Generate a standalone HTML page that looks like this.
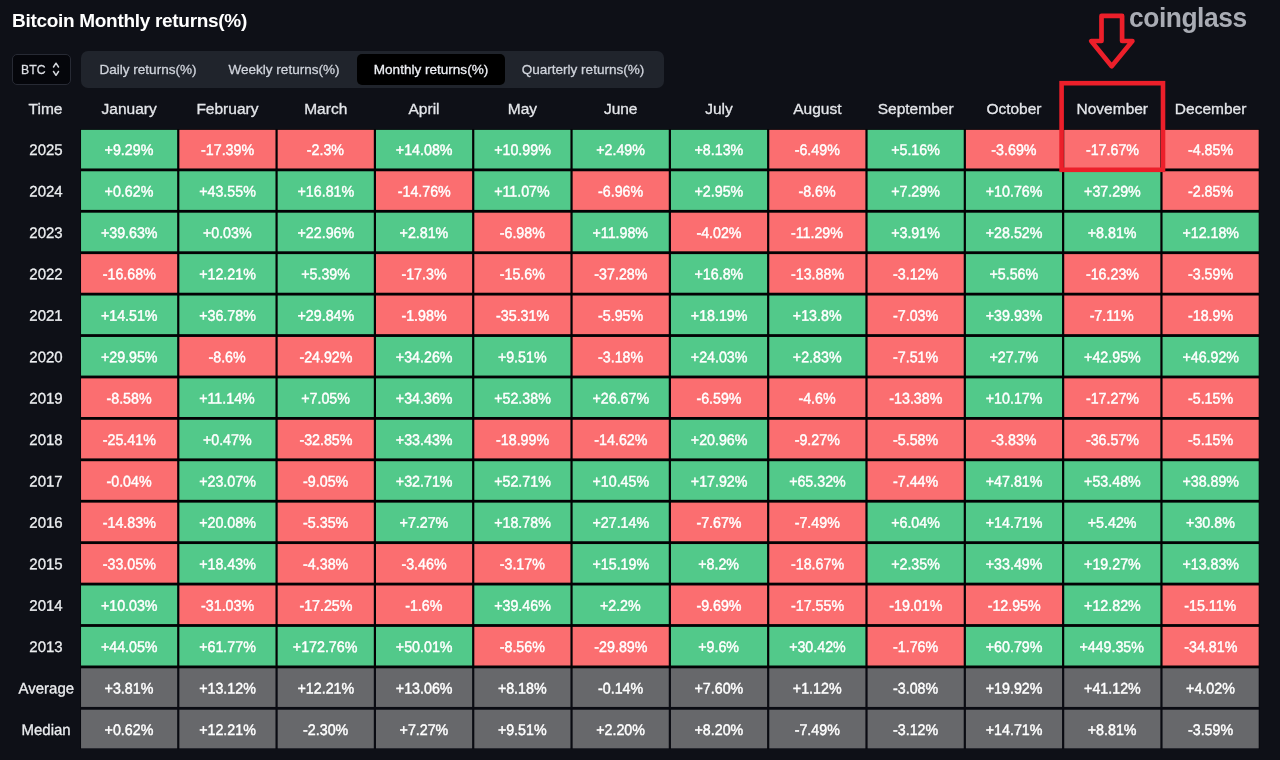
<!DOCTYPE html>
<html lang="en">
<head>
<meta charset="utf-8">
<title>Bitcoin Monthly returns(%)</title>
<style>
*{margin:0;padding:0;box-sizing:border-box}
html,body{width:1280px;height:760px;overflow:hidden;background:#0e1017}
body{position:relative;font-family:"Liberation Sans",Arial,sans-serif;color:#e6e8ea;-webkit-font-smoothing:antialiased}
.abs{position:absolute}
h1{position:absolute;left:12px;top:9px;transform:translateY(-.5px);font-size:19px;line-height:24px;font-weight:700;color:#fff;white-space:nowrap;letter-spacing:-0.3px}
.sel{position:absolute;left:12px;top:54px;width:59px;height:31px;border:1.3px solid #272a34;border-radius:5px;background:#05060b;font-size:13.6px;line-height:29px;color:#dcdee4;-webkit-text-stroke:.3px #dcdee4}
.sel span{position:absolute;left:8.2px;top:.3px;transform:scaleX(.9);transform-origin:0 50%}
.sel svg{position:absolute;left:36.8px;top:5px}
.tabs{position:absolute;left:81px;top:51px;width:583px;height:37px;border-radius:7px;background:#20242c}
.tab{position:absolute;top:3px;height:31px;line-height:31px;font-size:13.55px;color:#d0d4dc;text-align:center;white-space:nowrap;border-radius:5px;-webkit-text-stroke:.28px #d0d4dc}
.tab.on{background:#000;color:#eef0f5;-webkit-text-stroke:.28px #eef0f5}
.th{position:absolute;top:98px;transform:translateY(.5px);height:20px;line-height:20px;font-size:15.5px;color:#e4e6ea;text-align:center;white-space:nowrap;-webkit-text-stroke:.3px #e4e6ea}
.grid{position:absolute;background:#020204}
.grid{transform-origin:0 0}
.row{position:absolute;left:0;width:1280px;height:38px}
.c,.y{position:absolute;top:0;height:38px;line-height:39.48px;text-align:center;font-size:15.3px;white-space:nowrap}
.c{width:96px;color:#fff;-webkit-text-stroke:.45px #fff;transform-origin:0 0}
.y{left:0;width:92px;color:#eceef0;-webkit-text-stroke:.3px #eceef0;transform:scaleY(1.01632);transform-origin:0 0}
.c span,.y span{display:inline-block;transform:translate(-.3px,-.1px) rotate(.03deg) scale(.93,.985);transform-origin:50% 50%}
.y span{transform:translate(0,-.1px) rotate(.03deg) scale(.98,.985)}
.g{background:#52c98a}.r{background:#fb6e70}.a{background:#67686b}
.k0{left:81px;transform:translateX(0.04px) scale(1.00125,1.01632)}
.k1{left:179px;transform:translateX(0.36px) scale(1.00125,1.01632)}
.k2{left:277px;transform:translateX(0.68px) scale(1.00125,1.01632)}
.k3{left:376px;transform:translateX(0.00px) scale(1.00125,1.01632)}
.k4{left:474px;transform:translateX(0.32px) scale(1.00125,1.01632)}
.k5{left:572px;transform:translateX(0.64px) scale(1.00125,1.01632)}
.k6{left:670px;transform:translateX(0.96px) scale(1.00125,1.01632)}
.k7{left:769px;transform:translateX(0.28px) scale(1.00125,1.01632)}
.k8{left:867px;transform:translateX(0.60px) scale(1.00125,1.01632)}
.k9{left:965px;transform:translateX(0.92px) scale(1.00125,1.01632)}
.k10{left:1064px;transform:translateX(0.24px) scale(1.00125,1.01632)}
.k11{left:1162px;transform:translateX(0.56px) scale(1.00125,1.01632)}
.logo{position:absolute;left:1129px;top:1.8px;font-size:28.4px;line-height:30px;font-weight:700;color:#a9acb4;letter-spacing:-0.5px;white-space:nowrap;transform:scaleX(.93);transform-origin:0 50%}
</style>
</head>
<body>
<h1>Bitcoin Monthly returns(%)</h1>
<div class="sel"><span>BTC</span><svg width="12" height="18" viewBox="50 60 12 18"><path d="M53.5 67 L56 63.2 L58.5 67 M53.5 71.5 L56 75.3 L58.5 71.5" fill="none" stroke="#d4d7dd" stroke-width="1.5" stroke-linecap="round" stroke-linejoin="round"/></svg></div>
<div class="tabs"><div class="tab" style="left:3px;width:128px">Daily returns(%)</div><div class="tab" style="left:131px;width:144px">Weekly returns(%)</div><div class="tab on" style="left:276px;width:148px">Monthly returns(%)</div><div class="tab" style="left:427px;width:150px">Quarterly returns(%)</div></div>
<div class="th" style="left:0;width:91px">Time</div><div class="th" style="left:79.94px;width:98.32px">January</div><div class="th" style="left:178.26px;width:98.32px">February</div><div class="th" style="left:276.58px;width:98.32px">March</div><div class="th" style="left:374.90px;width:98.32px">April</div><div class="th" style="left:473.22px;width:98.32px">May</div><div class="th" style="left:571.54px;width:98.32px">June</div><div class="th" style="left:669.86px;width:98.32px">July</div><div class="th" style="left:768.18px;width:98.32px">August</div><div class="th" style="left:866.50px;width:98.32px">September</div><div class="th" style="left:964.82px;width:98.32px">October</div><div class="th" style="left:1063.14px;width:98.32px">November</div><div class="th" style="left:1161.46px;width:98.32px">December</div>
<div class="grid" style="left:80px;top:129px;width:100px;height:100px;transform:translate(0.44px,0.25px) scale(11.78840,6.19700)"></div>
<div class="grid" style="background:#0a0b12;left:80px;top:668px;width:100px;height:100px;transform:translate(0.44px,0.31px) scale(11.78840,0.80640)"></div>
<div class="row" style="top:129px;transform:translateY(0.85px)"><div class="y"><span>2025</span></div><div class="c g k0"><span>+9.29%</span></div><div class="c r k1"><span>-17.39%</span></div><div class="c r k2"><span>-2.3%</span></div><div class="c g k3"><span>+14.08%</span></div><div class="c g k4"><span>+10.99%</span></div><div class="c g k5"><span>+2.49%</span></div><div class="c g k6"><span>+8.13%</span></div><div class="c r k7"><span>-6.49%</span></div><div class="c g k8"><span>+5.16%</span></div><div class="c r k9"><span>-3.69%</span></div><div class="c r k10"><span>-17.67%</span></div><div class="c r k11"><span>-4.85%</span></div></div>
<div class="row" style="top:171px;transform:translateY(0.27px)"><div class="y"><span>2024</span></div><div class="c g k0"><span>+0.62%</span></div><div class="c g k1"><span>+43.55%</span></div><div class="c g k2"><span>+16.81%</span></div><div class="c r k3"><span>-14.76%</span></div><div class="c g k4"><span>+11.07%</span></div><div class="c r k5"><span>-6.96%</span></div><div class="c g k6"><span>+2.95%</span></div><div class="c r k7"><span>-8.6%</span></div><div class="c g k8"><span>+7.29%</span></div><div class="c g k9"><span>+10.76%</span></div><div class="c g k10"><span>+37.29%</span></div><div class="c r k11"><span>-2.85%</span></div></div>
<div class="row" style="top:212px;transform:translateY(0.69px)"><div class="y"><span>2023</span></div><div class="c g k0"><span>+39.63%</span></div><div class="c g k1"><span>+0.03%</span></div><div class="c g k2"><span>+22.96%</span></div><div class="c g k3"><span>+2.81%</span></div><div class="c r k4"><span>-6.98%</span></div><div class="c g k5"><span>+11.98%</span></div><div class="c r k6"><span>-4.02%</span></div><div class="c r k7"><span>-11.29%</span></div><div class="c g k8"><span>+3.91%</span></div><div class="c g k9"><span>+28.52%</span></div><div class="c g k10"><span>+8.81%</span></div><div class="c g k11"><span>+12.18%</span></div></div>
<div class="row" style="top:254px;transform:translateY(0.11px)"><div class="y"><span>2022</span></div><div class="c r k0"><span>-16.68%</span></div><div class="c g k1"><span>+12.21%</span></div><div class="c g k2"><span>+5.39%</span></div><div class="c r k3"><span>-17.3%</span></div><div class="c r k4"><span>-15.6%</span></div><div class="c r k5"><span>-37.28%</span></div><div class="c g k6"><span>+16.8%</span></div><div class="c r k7"><span>-13.88%</span></div><div class="c r k8"><span>-3.12%</span></div><div class="c g k9"><span>+5.56%</span></div><div class="c r k10"><span>-16.23%</span></div><div class="c r k11"><span>-3.59%</span></div></div>
<div class="row" style="top:295px;transform:translateY(0.53px)"><div class="y"><span>2021</span></div><div class="c g k0"><span>+14.51%</span></div><div class="c g k1"><span>+36.78%</span></div><div class="c g k2"><span>+29.84%</span></div><div class="c r k3"><span>-1.98%</span></div><div class="c r k4"><span>-35.31%</span></div><div class="c r k5"><span>-5.95%</span></div><div class="c g k6"><span>+18.19%</span></div><div class="c g k7"><span>+13.8%</span></div><div class="c r k8"><span>-7.03%</span></div><div class="c g k9"><span>+39.93%</span></div><div class="c r k10"><span>-7.11%</span></div><div class="c r k11"><span>-18.9%</span></div></div>
<div class="row" style="top:336px;transform:translateY(0.95px)"><div class="y"><span>2020</span></div><div class="c g k0"><span>+29.95%</span></div><div class="c r k1"><span>-8.6%</span></div><div class="c r k2"><span>-24.92%</span></div><div class="c g k3"><span>+34.26%</span></div><div class="c g k4"><span>+9.51%</span></div><div class="c r k5"><span>-3.18%</span></div><div class="c g k6"><span>+24.03%</span></div><div class="c g k7"><span>+2.83%</span></div><div class="c r k8"><span>-7.51%</span></div><div class="c g k9"><span>+27.7%</span></div><div class="c g k10"><span>+42.95%</span></div><div class="c g k11"><span>+46.92%</span></div></div>
<div class="row" style="top:378px;transform:translateY(0.37px)"><div class="y"><span>2019</span></div><div class="c r k0"><span>-8.58%</span></div><div class="c g k1"><span>+11.14%</span></div><div class="c g k2"><span>+7.05%</span></div><div class="c g k3"><span>+34.36%</span></div><div class="c g k4"><span>+52.38%</span></div><div class="c g k5"><span>+26.67%</span></div><div class="c r k6"><span>-6.59%</span></div><div class="c r k7"><span>-4.6%</span></div><div class="c r k8"><span>-13.38%</span></div><div class="c g k9"><span>+10.17%</span></div><div class="c r k10"><span>-17.27%</span></div><div class="c r k11"><span>-5.15%</span></div></div>
<div class="row" style="top:419px;transform:translateY(0.79px)"><div class="y"><span>2018</span></div><div class="c r k0"><span>-25.41%</span></div><div class="c g k1"><span>+0.47%</span></div><div class="c r k2"><span>-32.85%</span></div><div class="c g k3"><span>+33.43%</span></div><div class="c r k4"><span>-18.99%</span></div><div class="c r k5"><span>-14.62%</span></div><div class="c g k6"><span>+20.96%</span></div><div class="c r k7"><span>-9.27%</span></div><div class="c r k8"><span>-5.58%</span></div><div class="c r k9"><span>-3.83%</span></div><div class="c r k10"><span>-36.57%</span></div><div class="c r k11"><span>-5.15%</span></div></div>
<div class="row" style="top:461px;transform:translateY(0.21px)"><div class="y"><span>2017</span></div><div class="c r k0"><span>-0.04%</span></div><div class="c g k1"><span>+23.07%</span></div><div class="c r k2"><span>-9.05%</span></div><div class="c g k3"><span>+32.71%</span></div><div class="c g k4"><span>+52.71%</span></div><div class="c g k5"><span>+10.45%</span></div><div class="c g k6"><span>+17.92%</span></div><div class="c g k7"><span>+65.32%</span></div><div class="c r k8"><span>-7.44%</span></div><div class="c g k9"><span>+47.81%</span></div><div class="c g k10"><span>+53.48%</span></div><div class="c g k11"><span>+38.89%</span></div></div>
<div class="row" style="top:502px;transform:translateY(0.63px)"><div class="y"><span>2016</span></div><div class="c r k0"><span>-14.83%</span></div><div class="c g k1"><span>+20.08%</span></div><div class="c r k2"><span>-5.35%</span></div><div class="c g k3"><span>+7.27%</span></div><div class="c g k4"><span>+18.78%</span></div><div class="c g k5"><span>+27.14%</span></div><div class="c r k6"><span>-7.67%</span></div><div class="c r k7"><span>-7.49%</span></div><div class="c g k8"><span>+6.04%</span></div><div class="c g k9"><span>+14.71%</span></div><div class="c g k10"><span>+5.42%</span></div><div class="c g k11"><span>+30.8%</span></div></div>
<div class="row" style="top:544px;transform:translateY(0.05px)"><div class="y"><span>2015</span></div><div class="c r k0"><span>-33.05%</span></div><div class="c g k1"><span>+18.43%</span></div><div class="c r k2"><span>-4.38%</span></div><div class="c r k3"><span>-3.46%</span></div><div class="c r k4"><span>-3.17%</span></div><div class="c g k5"><span>+15.19%</span></div><div class="c g k6"><span>+8.2%</span></div><div class="c r k7"><span>-18.67%</span></div><div class="c g k8"><span>+2.35%</span></div><div class="c g k9"><span>+33.49%</span></div><div class="c g k10"><span>+19.27%</span></div><div class="c g k11"><span>+13.83%</span></div></div>
<div class="row" style="top:585px;transform:translateY(0.47px)"><div class="y"><span>2014</span></div><div class="c g k0"><span>+10.03%</span></div><div class="c r k1"><span>-31.03%</span></div><div class="c r k2"><span>-17.25%</span></div><div class="c r k3"><span>-1.6%</span></div><div class="c g k4"><span>+39.46%</span></div><div class="c g k5"><span>+2.2%</span></div><div class="c r k6"><span>-9.69%</span></div><div class="c r k7"><span>-17.55%</span></div><div class="c r k8"><span>-19.01%</span></div><div class="c r k9"><span>-12.95%</span></div><div class="c g k10"><span>+12.82%</span></div><div class="c r k11"><span>-15.11%</span></div></div>
<div class="row" style="top:626px;transform:translateY(0.89px)"><div class="y"><span>2013</span></div><div class="c g k0"><span>+44.05%</span></div><div class="c g k1"><span>+61.77%</span></div><div class="c g k2"><span>+172.76%</span></div><div class="c g k3"><span>+50.01%</span></div><div class="c r k4"><span>-8.56%</span></div><div class="c r k5"><span>-29.89%</span></div><div class="c g k6"><span>+9.6%</span></div><div class="c g k7"><span>+30.42%</span></div><div class="c r k8"><span>-1.76%</span></div><div class="c g k9"><span>+60.79%</span></div><div class="c g k10"><span>+449.35%</span></div><div class="c r k11"><span>-34.81%</span></div></div>
<div class="row" style="top:668px;transform:translateY(0.31px)"><div class="y"><span>Average</span></div><div class="c a k0"><span>+3.81%</span></div><div class="c a k1"><span>+13.12%</span></div><div class="c a k2"><span>+12.21%</span></div><div class="c a k3"><span>+13.06%</span></div><div class="c a k4"><span>+8.18%</span></div><div class="c a k5"><span>-0.14%</span></div><div class="c a k6"><span>+7.60%</span></div><div class="c a k7"><span>+1.12%</span></div><div class="c a k8"><span>-3.08%</span></div><div class="c a k9"><span>+19.92%</span></div><div class="c a k10"><span>+41.12%</span></div><div class="c a k11"><span>+4.02%</span></div></div>
<div class="row" style="top:709px;transform:translateY(0.73px)"><div class="y"><span>Median</span></div><div class="c a k0"><span>+0.62%</span></div><div class="c a k1"><span>+12.21%</span></div><div class="c a k2"><span>-2.30%</span></div><div class="c a k3"><span>+7.27%</span></div><div class="c a k4"><span>+9.51%</span></div><div class="c a k5"><span>+2.20%</span></div><div class="c a k6"><span>+8.20%</span></div><div class="c a k7"><span>-7.49%</span></div><div class="c a k8"><span>-3.12%</span></div><div class="c a k9"><span>+14.71%</span></div><div class="c a k10"><span>+8.81%</span></div><div class="c a k11"><span>-3.59%</span></div></div>
<div class="logo">coinglass</div>
<svg class="abs" style="left:1080px;top:0" width="70" height="80" viewBox="1080 0 70 80"><path d="M1101.5 15.9 H1122.1 V41 H1132.4 L1111.7 66.2 L1091.2 41 H1101.5 Z" fill="none" stroke="#ec1f2a" stroke-width="4.7" stroke-linejoin="round"/></svg>
<svg class="abs" style="left:1055px;top:76px" width="116" height="102" viewBox="1055 76 116 102"><rect x="1061.6" y="83.2" width="101.4" height="86.6" fill="none" stroke="#ec1f2a" stroke-width="4.6"/></svg>
</body>
</html>
